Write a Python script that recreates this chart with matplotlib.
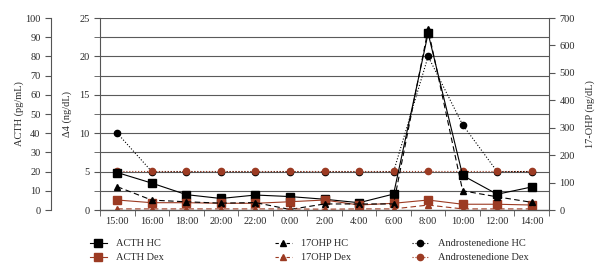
import matplotlib
matplotlib.use('Agg')
import matplotlib.pyplot as plt
from matplotlib.lines import Line2D

plt.rcParams['font.family'] = ['Liberation Serif', 'DejaVu Serif']

times = ['15:00', '16:00', '18:00', '20:00', '22:00', '0:00', '2:00',
         '4:00', '6:00', '8:00', '10:00', '12:00', '14:00']

# ACTH (pg/mL)
acth_hc = [19.5, 14, 8, 6, 7.8, 7, 5.6, 3.8, 8.3, 92, 18, 8.2, 12]
acth_dex = [5.2, 3.8, 3.8, 3.5, 3.5, 4.3, 5.2, 2.6, 3.5, 5.2, 3.0, 3.0, 2.6]
# 17-OHP (ng/dL)
ohp_hc = [85, 36, 30, 25, 27, 2, 22, 22, 22, 659, 70, 48, 28]
ohp_dex = [4, 4, 4, 4, 4, 4, 3, 4, 4, 18, 4, 4, 4]
# Androstenedione, delta4 (ng/dL)
andro_hc = [10, 5, 5, 5, 5, 5, 5, 5, 5, 20, 11.1, 5, 5]
andro_dex = [5.05, 5.05, 5.05, 5.05, 5.05, 5.05, 5.05, 5.05, 5.05, 5.05, 5.05, 5.05, 5.05]

brown = '#9c3b23'
spine_c = '#555555'
txt_c = '#2a2a2a'
fs = 7.5

fig = plt.figure(figsize=(6.07, 2.67), dpi=100)
ax = fig.add_axes([100 / 607, 57 / 267, 449 / 607, 192 / 267])
ax_acth = ax.twinx()
ax_ohp = ax.twinx()

x = list(range(len(times)))

ax.plot(x, andro_hc, color='black', ls=':', lw=0.8, marker='o', ms=4.5)
ax.plot(x, andro_dex, color=brown, ls=':', lw=0.8, marker='o', ms=4.5)
ax_acth.plot(x, acth_hc, color='black', ls='-', lw=0.8, marker='s', ms=5.3)
ax_acth.plot(x, acth_dex, color=brown, ls='-', lw=0.8, marker='s', ms=5.3)
ax_ohp.plot(x, ohp_hc, color='black', ls=(0, (5, 3)), lw=0.8, marker='^', ms=4.5)
ax_ohp.plot(x, ohp_dex, color=brown, ls=(0, (5, 3)), lw=0.8, marker='^', ms=4.5)

ax.set_xlim(-0.5, len(times) - 0.5)
ax.set_ylim(0, 25)
ax_acth.set_ylim(0, 100)
ax_ohp.set_ylim(0, 700)

ax.set_xticks(x)
ax.set_xticklabels(times)
ax.set_xticks([i - 0.5 for i in range(len(times) + 1)], minor=True)
ax.tick_params(axis='x', which='major', length=0, labelsize=fs, labelcolor=txt_c, pad=5)
ax.tick_params(axis='x', which='minor', length=4, color=spine_c, direction='out')

ax.set_yticks([0, 5, 10, 15, 20, 25])
ax.set_yticks([2.5, 7.5, 12.5, 17.5, 22.5], minor=True)
ax.tick_params(axis='y', which='both', length=4, color=spine_c, labelsize=fs,
               labelcolor=txt_c, direction='out')
ax.yaxis.grid(True, which='both', color='#5a5a5a', lw=0.8)
ax.set_axisbelow(True)

# lighter gridline at 7.5
for t in ax.yaxis.get_minor_ticks():
    if abs(t.get_loc() - 7.5) < 1e-6:
        t.gridline.set_color('#bbbbbb')
        t.gridline.set_linewidth(1.4)

ax_acth.yaxis.tick_left()
ax_acth.yaxis.set_label_position('left')
ax_acth.spines['left'].set_visible(True)
ax_acth.spines['left'].set_position(('outward', 35.3))
ax_acth.set_yticks(range(0, 101, 10))
ax_acth.tick_params(axis='y', length=4, color=spine_c, labelsize=fs, labelcolor=txt_c)

ax_ohp.set_yticks(range(0, 701, 100))
ax_ohp.tick_params(axis='y', length=4, color=spine_c, labelsize=fs, labelcolor=txt_c)

for a in (ax, ax_acth, ax_ohp):
    a.spines['top'].set_visible(False)
    for s in a.spines.values():
        s.set_color(spine_c)
        s.set_linewidth(0.8)
ax.spines['right'].set_visible(False)
ax_acth.spines['right'].set_visible(False)
ax_ohp.spines['left'].set_visible(False)

ax.set_ylabel('Δ4 (ng/dL)', fontsize=fs, color=txt_c)
ax.yaxis.set_label_coords(-0.063, 0.5)
ax_acth.set_ylabel('ACTH (pg/mL)', fontsize=fs, color=txt_c)
ax_acth.yaxis.set_label_coords(-0.17, 0.5)
ax_ohp.set_ylabel('17-OHP (ng/dL)', fontsize=fs, color=txt_c)
ax_ohp.yaxis.set_label_coords(1.08, 0.5)

def h(color, ls, marker, ms):
    return Line2D([], [], color=color, ls=ls, lw=0.8, marker=marker, ms=ms)

groups = [
    ([h('black', '-', 's', 5.3), h(brown, '-', 's', 5.3)], ['ACTH HC', 'ACTH Dex'], 90),
    ([h('black', (0, (3, 2)), '^', 4.5), h(brown, (0, (3, 2)), '^', 4.5)],
     ['17OHP HC', '17OHP Dex'], 275),
    ([h('black', ':', 'o', 4.5), h(brown, ':', 'o', 4.5)],
     ['Androstenedione HC', 'Androstenedione Dex'], 412),
]
for handles, labels, xpx in groups:
    lg = fig.legend(handles, labels, loc='upper left',
                    bbox_to_anchor=(xpx / 607, 1 - 239 / 267), frameon=False,
                    fontsize=fs, handlelength=1.6, handletextpad=0.9,
                    labelspacing=0.45, borderaxespad=0, borderpad=0)
    for t in lg.get_texts():
        t.set_color(txt_c)

fig.savefig('out.png', dpi=100)
